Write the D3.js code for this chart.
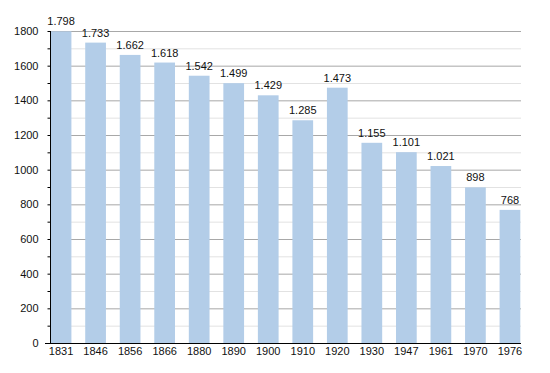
<!DOCTYPE html>
<html>
<head>
<meta charset="utf-8">
<script src="https://cdn.jsdelivr.net/npm/d3@7"></script>
<style>
  body { margin: 0; background: #fff; }
  svg { display: block; font-family: "Liberation Sans", Arial, sans-serif; }
</style>
</head>
<body>
<div id="chart"></div>
<script>
const years = ["1831", "1846", "1856", "1866", "1880", "1890", "1900", "1910", "1920", "1930", "1947", "1961", "1970", "1976"];
const population = [1798, 1733, 1662, 1618, 1542, 1499, 1429, 1285, 1473, 1155, 1101, 1021, 898, 768];
const yTicks = [0, 200, 400, 600, 800, 1000, 1200, 1400, 1600, 1800];

const width = 550, height = 373;
const plotLeft = 50, plotRight = 521, plotTop = 31, plotBottom = 343;

const svg = d3.select("#chart").append("svg")
    .attr("width", width)
    .attr("height", height);

const x = d3.scaleBand().domain(years).range([plotLeft, plotRight]).paddingInner(0.4).paddingOuter(0.02);
const y = d3.scaleLinear().domain([0, 1800]).range([plotBottom, plotTop]);

// minor gridlines every 100
const minor = d3.range(100, 1800, 200);
svg.append("g").selectAll("line").data(minor).join("line")
    .attr("x1", plotLeft).attr("x2", plotRight)
    .attr("y1", d => y(d) + 0.5).attr("y2", d => y(d) + 0.5)
    .attr("stroke", "#e2e2e2");

// major gridlines
svg.append("g").selectAll("line").data(yTicks.filter(d => d > 0)).join("line")
    .attr("x1", plotLeft).attr("x2", plotRight)
    .attr("y1", d => y(d) + 0.5).attr("y2", d => y(d) + 0.5)
    .attr("stroke", "#a8a8a8");

// bars
svg.append("g").selectAll("rect").data(population).join("rect")
    .attr("x", (d, i) => x(years[i]))
    .attr("y", d => y(d))
    .attr("width", x.bandwidth())
    .attr("height", d => y(0) - y(d))
    .attr("fill", "#b3cde8");

// value labels
svg.append("g").selectAll("text").data(population).join("text")
    .attr("x", (d, i) => x(years[i]) + x.bandwidth() / 2)
    .attr("y", d => y(d) - 6)
    .attr("text-anchor", "middle")
    .attr("font-size", 11)
    .attr("fill", "#111")
    .text(d => d3.format(",")(d).replace(/,/g, "."));

// y axis
const yAxis = d3.axisLeft(y).tickValues(d3.range(0, 1801, 100)).tickSize(3)
    .tickFormat(d => d % 200 === 0 ? d : "");
const gy = svg.append("g").attr("transform", `translate(${plotLeft + 0.5},0)`).call(yAxis);
gy.select(".domain").attr("stroke", "#000").attr("d", `M0,${plotTop}V${plotBottom}`);
gy.selectAll(".tick line").attr("stroke", "#000");
gy.selectAll(".tick text").attr("font-size", 11).attr("fill", "#111").attr("x", -12)
    .attr("font-family", "Liberation Sans, Arial, sans-serif");

// x axis
const xAxis = d3.axisBottom(x).tickSize(0);
const gx = svg.append("g").attr("transform", `translate(0,${plotBottom + 0.5})`).call(xAxis);
gx.select(".domain").attr("stroke", "#000").attr("d", `M${plotLeft - 5},0H${plotRight}`);
gx.selectAll(".tick text").attr("font-size", 11).attr("fill", "#111").attr("dy", "0.71em").attr("y", 4)
    .attr("font-family", "Liberation Sans, Arial, sans-serif");
</script>
</body>
</html>
